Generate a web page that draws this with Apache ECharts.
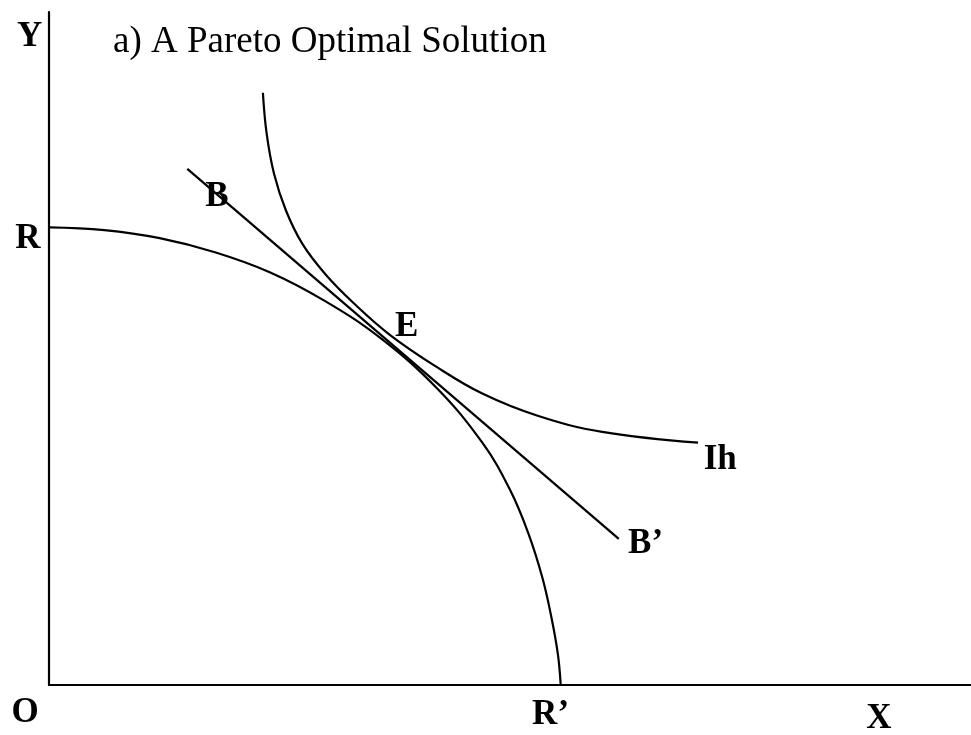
<!DOCTYPE html>
<html>
<head>
<meta charset="utf-8">
<script src="https://cdn.jsdelivr.net/npm/echarts@6/dist/echarts.min.js"></script>
<style>
  html, body { margin: 0; padding: 0; background: #fff; }
  #chart { width: 971px; height: 735px; }
</style>
</head>
<body>
<div id="chart"></div>
<script>
// production possibility frontier R -> R'
var frontier = [
  [0, 6.8], [0.6, 6.76], [1.2, 6.64], [1.8, 6.43], [2.4, 6.13],
  [3.0, 5.7], [3.6, 5.15], [4.2, 4.42], [4.7, 3.6], [5.0, 2.9],
  [5.2, 2.25], [5.35, 1.6], [5.45, 1.0], [5.52, 0.45], [5.55, 0]
]
// indifference curve Ih
var indifference = [
  [2.32, 8.8], [2.36, 8.2], [2.44, 7.6], [2.57, 7.05], [2.75, 6.55],
  [3.0, 6.1], [3.3, 5.68], [3.7, 5.2], [4.2, 4.73], [4.7, 4.33],
  [5.3, 4.0], [6.0, 3.76], [7.04, 3.6]
]
// budget line B -> B'
var budget = [[1.5, 7.67], [6.18, 2.17]]

// point labels
var labelNames = ['Y', 'R', 'B', 'E', 'Ih', "B\u2019", 'O', "R\u2019", 'X']
var labelPos = [
  [-0.21, 9.63], [-0.23, 6.63], [1.82, 7.25], [3.88, 5.32], [7.28, 3.34],
  [6.47, 2.1], [-0.26, -0.42], [5.44, -0.45], [9.0, -0.51]
]

var titleText = 'a) A Pareto Optimal Solution'

var chart = echarts.init(document.getElementById('chart'))

var lineStyle = { color: '#000', width: 2.2 }

var option = {
  backgroundColor: '#fff',
  animation: false,
  title: {
    text: titleText,
    left: 108,
    top: 19,
    textStyle: {
      fontFamily: 'Liberation Serif',
      fontWeight: 'normal',
      fontSize: 37,
      color: '#000'
    }
  },
  grid: { left: 49, right: 0, top: 12, bottom: 50 },
  xAxis: {
    type: 'value', min: 0, max: 10,
    axisLine: { show: true, onZero: false, lineStyle: lineStyle },
    axisTick: { show: false }, axisLabel: { show: false }, splitLine: { show: false }
  },
  yAxis: {
    type: 'value', min: 0, max: 10,
    axisLine: { show: true, onZero: false, lineStyle: lineStyle },
    axisTick: { show: false }, axisLabel: { show: false }, splitLine: { show: false }
  },
  series: [
    { name: 'frontier', type: 'line', data: frontier, smooth: 0.4, showSymbol: false, lineStyle: lineStyle },
    { name: 'indifference', type: 'line', data: indifference, smooth: 0.4, showSymbol: false, lineStyle: lineStyle },
    { name: 'budget', type: 'line', data: budget, showSymbol: false, lineStyle: lineStyle },
    {
      name: 'labels',
      type: 'scatter',
      clip: false,
      symbolSize: 0,
      itemStyle: { opacity: 1, color: '#000' },
      data: labelPos.map(function (p, i) { return { name: labelNames[i], value: p } }),
      label: {
        show: true,
        position: 'inside',
        formatter: '{b}',
        fontFamily: 'Liberation Serif',
        fontWeight: 'bold',
        fontSize: 35,
        color: '#000'
      }
    }
  ]
}

chart.setOption(option)
</script>
</body>
</html>
